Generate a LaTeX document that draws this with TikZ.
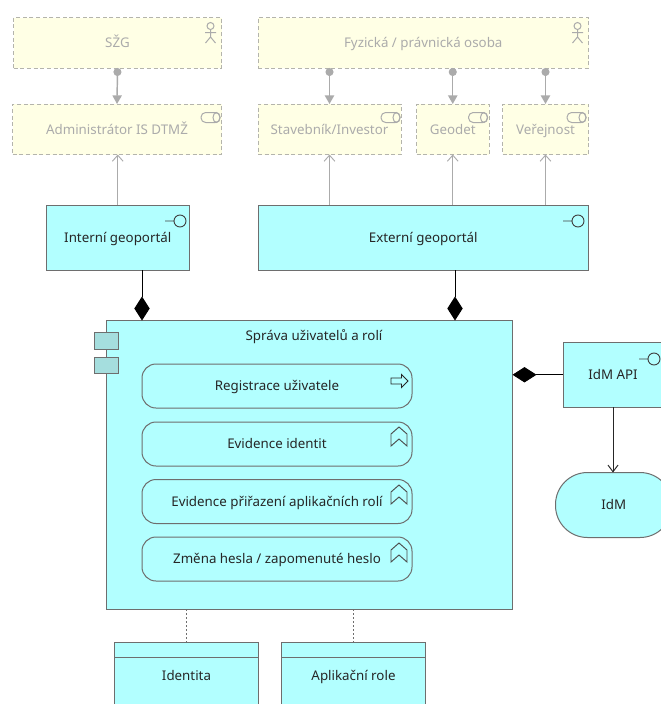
\documentclass[tikz,border=0pt]{standalone}
\usepackage{fontspec}
\setmainfont{Noto Sans}
\usetikzlibrary{arrows.meta}
\definecolor{archblue}{HTML}{B2FFFF}
\definecolor{archyellow}{HTML}{FFFFE5}
\definecolor{archline}{HTML}{6E6E6E}
\definecolor{fadeline}{HTML}{B4B4AC}
\definecolor{fadetext}{HTML}{ABABAB}
\definecolor{tabfill}{HTML}{A5DEDE}
\tikzset{
  x=0.75pt,y=-0.75pt,
  sized/.style 2 args={minimum width=#1*0.75pt,minimum height=#2*0.75pt,inner sep=0pt,outer sep=0pt},
  base/.style={font=\fontsize{10pt}{12pt}\selectfont,text height=8.7pt,text depth=1.3pt},
  active/.style={base,draw=archline,fill=archblue,line width=0.75pt,text=black!85},
  passive/.style={base,draw=fadeline,fill=archyellow,dashed,dash pattern=on 3pt off 2pt,line width=0.75pt,text=fadetext},
  inner box/.style={active,rounded corners=10.5pt,fill=none},
  pill/.style={active,rounded corners=24pt},
  label/.style={base,inner sep=0pt,text=black!85},
  assign/.style={draw=fadetext,line width=1.1pt,{Circle[length=6pt,width=6pt]}-{Triangle[length=6.5pt,width=7pt]}},
  access/.style={draw=fadetext,line width=0.75pt,-{Straight Barb[length=4.5pt,width=8pt,line width=0.7pt]}},
  compose/.style={draw=black,fill=black,line width=0.7pt,{Diamond[length=18pt,width=11.5pt,fill=black]}-},
  flow/.style={draw=black!85,line width=0.7pt,-{Straight Barb[length=5pt,width=7.5pt,line width=0.7pt]}},
  assoc/.style={draw=archline,line width=0.8pt,dash pattern=on 1.5pt off 1.5pt},
  icon/.style={draw=archline,line width=0.7pt},
  fadeicon/.style={draw=fadetext,line width=0.75pt},
  pics/actor/.style={code={
    \draw[fadeicon] (0,0) circle[radius=3.5];
    \draw[fadeicon] (0,3.5) -- (0,11) (-5.5,6.5) -- (5.5,6.5) (-5,17) -- (0,11) -- (5,17);}},
  pics/role/.style={code={
    \draw[fadeicon,rounded corners=3.5pt] (-9.5,-5) rectangle (9.5,5);
    \draw[fadeicon] (6,0) ellipse[x radius=3.5,y radius=5];}},
  pics/iface/.style={code={
    \draw[icon,draw=black!75] (0,0) circle[radius=6] (-6,0) -- (-15,0);}},
  pics/service/.style={code={
    \draw[icon,draw=black!85] (-8.5,-3) -- (2,-3) -- (2,-6.5) -- (8.5,0) -- (2,6.5) -- (2,3) -- (-8.5,3) -- cycle;}},
  pics/func/.style={code={
    \draw[icon,draw=black!70] (0,-9.5) -- (8,-2.5) -- (8,9.5) -- (0,2.5) -- (-8,9.5) -- (-8,-2.5) -- cycle;}},
}
\begin{document}
\begin{tikzpicture}
\path[use as bounding box] (0,0) rectangle (661,704);
\clip (0,0) rectangle (661,704);
\fill[white] (0,0) rectangle (661,704);

% business layer
\node[passive,sized={208}{50.5}] (szg) at (117.5,42.75) {SŽG};
\node[passive,sized={209}{50.5}] (admin) at (117,129.25) {Administrátor IS DTMŽ};
\node[passive,sized={330.5}{50.5}] (fyz) at (423.25,42.75) {Fyzická / právnická osoba};
\node[passive,sized={143}{50.5}] (stav) at (329.5,129.25) {Stavebník/Investor};
\node[passive,sized={72.5}{50.5}] (geo) at (452.75,129.25) {Geodet};
\node[passive,sized={86}{50.5}] (ver) at (545.5,129.25) {Veřejnost};
\pic at (210.5,26) {actor};
\pic at (577.5,26) {actor};
\pic at (210.5,117.5) {role};
\pic at (390.5,117.5) {role};
\pic at (478,117.5) {role};
\pic at (576.5,117.5) {role};

% interfaces
\node[active,sized={143.5}{65}] (intg) at (117.75,237.5) {Interní geoportál};
\node[active,sized={330.5}{65}] (extg) at (423.25,237.5) {Externí geoportál};
\pic at (180,221) {iface};
\pic at (578,221) {iface};

% main component
\node[active,sized={406}{288.5}] (main) at (309.5,464.75) {};
\node[active,fill=tabfill,sized={24}{17}] (tab1) at (106,340.5) {};
\node[active,fill=tabfill,sized={24}{16}] (tab2) at (106,365) {};
\node[label] (title) at (314,336) {Správa uživatelů a rolí};
\node[inner box,sized={270}{44}] (reg) at (277,386) {Registrace uživatele};
\node[inner box,sized={270}{44}] (evi) at (277,444) {Evidence identit};
\node[inner box,sized={270}{44}] (evp) at (277,501.5) {Evidence přiřazení aplikačních rolí};
\node[inner box,sized={270}{44}] (zme) at (277,559) {Změna hesla / zapomenuté heslo};
\pic at (399.5,381) {service};
\pic at (399,436.5) {func};
\pic at (399,494.5) {func};
\pic at (399,552.5) {func};

% right side
\node[active,sized={100}{64.5}] (api) at (613,374.75) {IdM API};
\pic at (654,359) {iface};
\node[pill,sized={116.5}{65}] (idm) at (613.75,505) {IdM};

% data objects
\node[active,sized={143.5}{66.5}] (ident) at (186.5,676) {Identita};
\node[active,sized={143.5}{66.5}] (role) at (353.5,676) {Aplikační role};
\draw[icon] (ident.north west) ++(0,14.5) -- ++(143.5,0);
\draw[icon] (role.north west) ++(0,14.5) -- ++(143.5,0);

% connectors
\draw[assign] (szg.south) -- (admin.north);
\coordinate (stavx) at (329.5,0);
\draw[assign] (fyz.south -| stavx) -- (stav.north);
\draw[assign] (fyz.south -| geo.north) -- (geo.north);
\draw[assign] (fyz.south -| ver.north) -- (ver.north);
\draw[access] (intg.north) -- (admin.south -| intg.north);
\draw[access] (extg.north -| stav.south) -- (stav.south);
\draw[access] (extg.north -| geo.south) -- (geo.south);
\draw[access] (extg.north -| ver.south) -- (ver.south);
\coordinate (ci) at (142,0);
\coordinate (ce) at (455,0);
\draw[compose] (main.north -| ci) -- (intg.south -| ci);
\draw[compose] (main.north -| ce) -- (extg.south -| ce);
\draw[compose] (main.east |- api.west) -- (api.west);
\draw[flow] (api.south) -- (idm.north -| api.south);
\draw[assoc] (main.south -| ident.north) -- (ident.north);
\draw[assoc] (main.south -| role.north) -- (role.north);
\end{tikzpicture}
\end{document}
